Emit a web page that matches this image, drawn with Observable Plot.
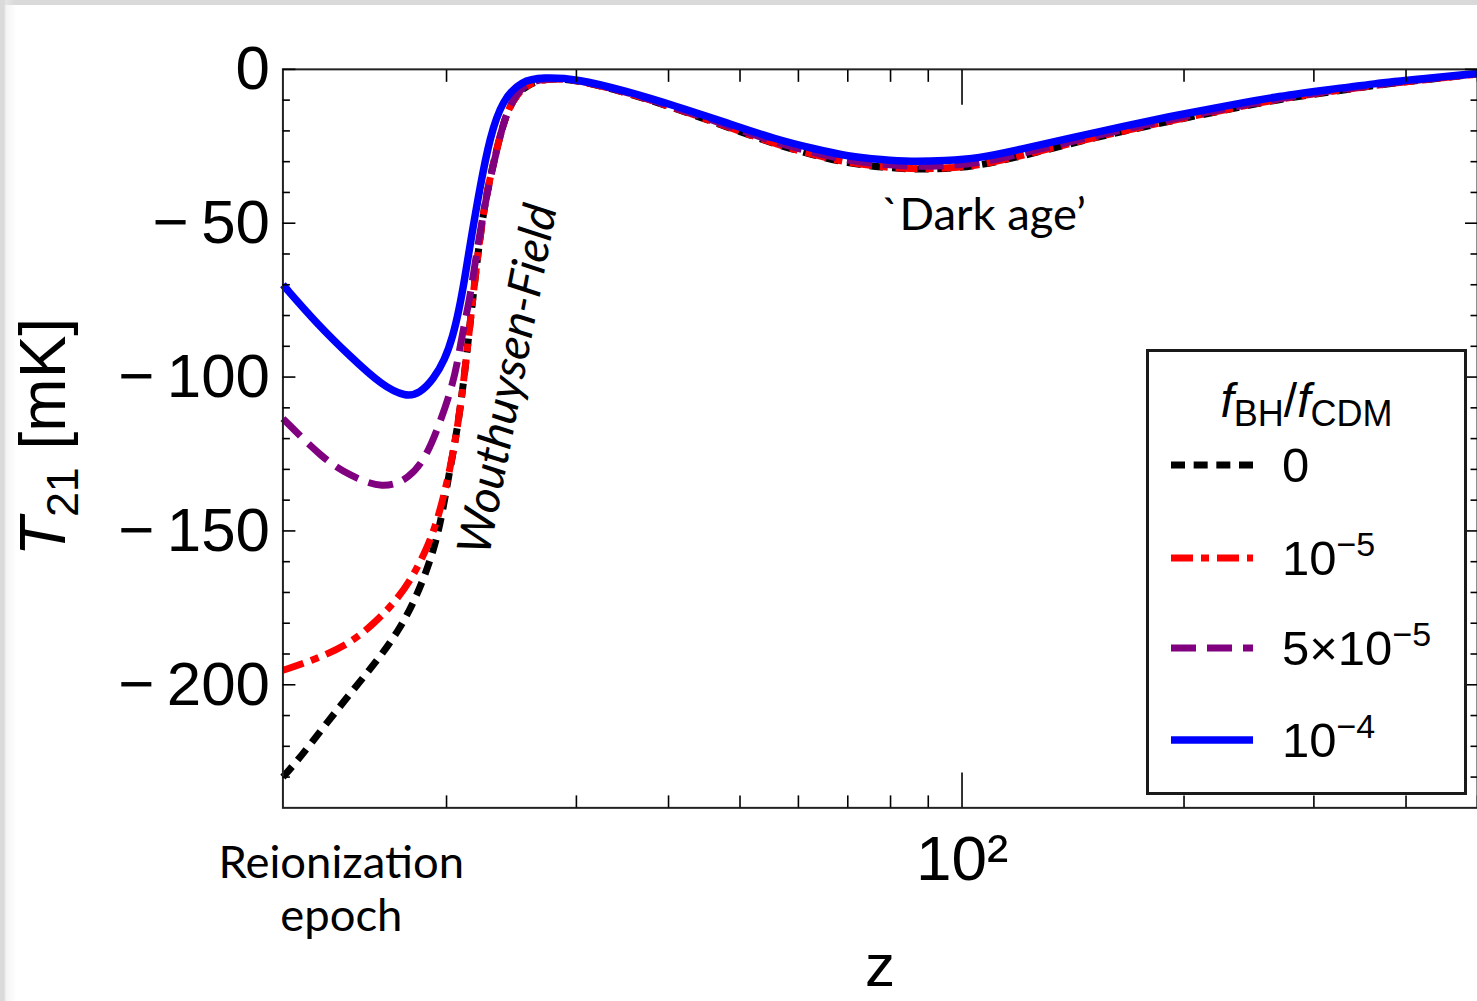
<!DOCTYPE html>
<html><head><meta charset="utf-8">
<script src="https://cdn.jsdelivr.net/npm/d3@7"></script>
<script src="https://cdn.jsdelivr.net/npm/@observablehq/plot@0.6"></script>
<style>
html,body{margin:0;padding:0;background:#fff;overflow:hidden;width:1477px;height:1001px;}
#wrap{position:relative;width:1477px;height:1001px;overflow:hidden;font-family:"Liberation Sans",Arial,sans-serif;}
#wrap svg{position:absolute;left:0;top:0;}
.ov{position:absolute;white-space:nowrap;color:#000;}
#legend{position:absolute;left:1146px;top:349px;width:315px;height:440px;border:3px solid #1a1a1a;background:#fff;}
#legend .title{position:absolute;left:0;right:0;top:0;text-align:center;font-size:48px;line-height:1;}
#legend .row{position:absolute;left:0;height:60px;}
#legend .lab{position:absolute;left:133px;font-size:49px;line-height:60px;top:0;}
#legend sup{font-size:34px;vertical-align:0;position:relative;top:-19px;}
</style></head>
<body><div id="wrap"></div>
<script>
// ---- data (z, T21 in mK) ----
// Shared high-redshift grid
const zTail = [27, 30, 35, 41, 48, 56, 63, 70, 78, 85, 95, 105, 120, 142, 165, 195, 230, 265, 310, 363, 420, 500];

// f_BH/f_CDM = 0
const zRise0 = [12, 12.65, 13.7, 14.9, 16.2, 17.3, 18.2, 19.0, 19.6, 20.1, 20.7, 21.2, 21.6, 22.4, 23.2, 24.1, 25.3];
const TRise0 = [-230, -223.8, -213, -202, -191.4, -181.7, -171.5, -160, -148.5, -133.1, -116.9, -97.5, -79, -45.7, -29.5, -13.3, -5.8];
const TTail0 = [-2.8, -3.3, -7.5, -12.8, -18.7, -24.5, -27.9, -30.5, -31.8, -32.5, -32.3, -31.4, -28.3, -23.8, -20.2, -16.4, -13, -10, -7.6, -5.2, -3.5, -1.5];

// f_BH/f_CDM = 1e-5
const zRise1 = [12, 13.3, 14.8, 16.0, 17.1, 18.0, 18.8, 19.4, 20.1, 20.7, 21.2, 21.6, 22.4, 23.2, 24.1, 25.3];
const TRise1 = [-195.3, -191.7, -186.6, -179.8, -172.6, -164.9, -155.8, -147.4, -133.1, -116.9, -97.5, -79, -45.7, -29.5, -13.3, -5.8];
const TTail1 = [-2.8, -3.3, -7.4, -12.7, -18.6, -24.4, -27.8, -30.4, -31.7, -32.4, -32.2, -31.3, -28.2, -23.7, -20.1, -16.3, -12.9, -9.9, -7.5, -5.1, -3.5, -1.5];

// f_BH/f_CDM = 5e-5
const zRise2 = [12, 13.6, 14.8, 16.4, 17.8, 18.8, 19.6, 20.3, 20.7, 21.1, 21.5, 22.0, 22.6, 23.3, 24.1, 25.3];
const TRise2 = [-113.5, -126.6, -132.1, -136.4, -133.1, -125.7, -114.7, -104, -95.2, -83.6, -74.8, -58.6, -42.4, -27.9, -13.3, -5.2];
const TTail2 = [-2.7, -3.2, -7.3, -12.5, -18.2, -23.9, -27.1, -29.7, -30.9, -31.6, -31.4, -30.6, -27.5, -23.2, -19.6, -15.9, -12.6, -9.7, -7.3, -5.0, -3.4, -1.4];

// f_BH/f_CDM = 1e-4
const zRise3 = [12, 13.3, 14.8, 16.4, 17.6, 18.4, 19.2, 19.9, 20.4, 20.8, 21.16, 21.5, 22.2, 22.9, 23.8, 25.3];
const TRise3 = [-70, -82.3, -93.3, -103, -106.4, -105.3, -100.7, -94.3, -86.8, -78.1, -68.3, -57.7, -38.2, -22, -10, -3.6];
const TTail3 = [-2.6, -3.0, -7, -12, -17.4, -22.8, -25.8, -28.3, -29.4, -30, -29.7, -29, -26, -22, -18.6, -14.9, -11.7, -9, -6.8, -4.6, -3.1, -1.3];

// series & legend
const seriesKeys = ["0", "1e-5", "5e-5", "1e-4"];
const seriesLabels = ["0", "10<sup>\u22125</sup>", "5\u00d710<sup>\u22125</sup>", "10<sup>\u22124</sup>"];
const seriesColors = ["#000000", "#ff0000", "#800080", "#0000ff"];
const seriesDash = ["14,8.67", "22,8,8,8", "25,11", null];
const seriesWidth = [7, 7, 7, 7.5];

// ticks
const xMajor = [100];
const xMinor = [20, 30, 40, 50, 60, 70, 80, 90, 200, 300, 400, 500];
const yMajor = [0, -50, -100, -150, -200];
const yMinor = [-10, -20, -30, -40, -60, -70, -80, -90, -110, -120, -130, -140, -160, -170, -180, -190, -210, -220, -230];

// annotations (in data coordinates)
const notes = [
  {z: 107, T: -46.6, text: "`Dark age\u2019", rotate: 0, italic: false},
  {z: 24.25, T: -100.7, text: "Wouthuysen-Field", rotate: -79, italic: true},
  {z: 14.4, T: -265.9, text: "Reionization\nepoch", rotate: 0, italic: false}
];

// ---- build ----
const riseZ = [zRise0, zRise1, zRise2, zRise3];
const riseT = [TRise0, TRise1, TRise2, TRise3];
const tailT = [TTail0, TTail1, TTail2, TTail3];
const series = seriesKeys.map((k, i) => {
  const zs = riseZ[i].concat(zTail);
  const ts = riseT[i].concat(tailT[i]);
  return zs.map((z, j) => ({key: k, z, T: ts[j]}));
});

const fmtY = d => d < 0 ? "\u2212\u2009" + Math.abs(d) : String(d);
const fontSans = "'Liberation Sans', Arial, sans-serif";

const lineMarks = series.map((rows, i) => Plot.line(rows, {
  x: "z", y: "T", stroke: seriesColors[i], strokeWidth: seriesWidth[i],
  strokeDasharray: seriesDash[i] || undefined, curve: "basis", strokeLinecap: "butt"
}));

const chart = Plot.plot({
  width: 1480, height: 1001,
  marginLeft: 283, marginRight: 0, marginTop: 69, marginBottom: 192,
  style: {fontFamily: fontSans, background: "transparent", overflow: "visible", color: "#000"},
  x: {type: "log", domain: [12, 500], label: null},
  y: {domain: [-240, 0], label: null},
  marks: [
    ...lineMarks,
    Plot.frame({stroke: "#222", strokeWidth: 2}),
    Plot.axisX(xMajor, {anchor: "bottom", tickSize: -35, tickFormat: () => "", strokeWidth: 1.6, label: null}),
    Plot.axisX(xMinor, {anchor: "bottom", tickSize: -12, tickFormat: () => "", strokeWidth: 1.6, label: null}),
    Plot.axisX(xMajor, {anchor: "top", tickSize: -35, tickFormat: () => "", strokeWidth: 1.6, label: null}),
    Plot.axisX(xMinor, {anchor: "top", tickSize: -12, tickFormat: () => "", strokeWidth: 1.6, label: null}),
    Plot.axisX(xMajor, {anchor: "bottom", tickSize: 0, tickPadding: 27, fontSize: 64, tickFormat: () => "10\u00b2", label: null}),
    Plot.axisY(yMajor, {anchor: "left", tickSize: -13, tickFormat: () => "", strokeWidth: 1.6, label: null}),
    Plot.axisY(yMinor, {anchor: "left", tickSize: -7.5, tickFormat: () => "", strokeWidth: 1.6, label: null}),
    Plot.axisY(yMajor, {anchor: "right", tickSize: -13, tickFormat: () => "", strokeWidth: 1.6, label: null}),
    Plot.axisY(yMinor, {anchor: "right", tickSize: -7.5, tickFormat: () => "", strokeWidth: 1.6, label: null}),
    Plot.axisY(yMajor, {anchor: "left", tickSize: 0, tickPadding: 13, fontSize: 62, tickFormat: fmtY, label: null}),
    Plot.text(notes.filter(n => !n.italic), {x: "z", y: "T", text: "text", rotate: "rotate",
      fontSize: 45.5, fontFamily: "Lato", lineHeight: 1.17, fill: "#000"}),
    Plot.text(notes.filter(n => n.italic), {x: "z", y: "T", text: "text", rotate: "rotate",
      fontSize: 47, fontFamily: "Lato", fontStyle: "italic", fill: "#000"})
  ]
});

const wrap = document.getElementById("wrap");
wrap.appendChild(chart);

// y-axis title
const yl = document.createElement("div");
yl.className = "ov";
yl.style.cssText = "left:46px;top:437px;font-size:64px;line-height:64px;transform:translate(-50%,-50%) rotate(-90deg);";
yl.innerHTML = '<i>T</i><span style="font-size:0.7em;position:relative;top:0.28em;">21</span> [mK]';
wrap.appendChild(yl);

// x-axis title
const xl = document.createElement("div");
xl.className = "ov";
xl.style.cssText = "left:880px;top:944px;font-size:60px;line-height:44px;transform:translateX(-50%);";
xl.textContent = "z";
wrap.appendChild(xl);

// legend
const lg = document.createElement("div");
lg.id = "legend";
let html = '<div class="title" style="top:25px;"><i>f</i><span style="font-size:36px;position:relative;top:9px;">BH</span>/<i>f</i><span style="font-size:36px;position:relative;top:9px;">CDM</span></div>';
const rowCenters = [113, 206, 296, 388];
seriesKeys.forEach((k, i) => {
  const dash = seriesDash[i] ? `stroke-dasharray="${seriesDash[i]}"` : "";
  html += `<div class="row" style="top:${rowCenters[i] - 30}px;width:315px;">
    <svg style="position:absolute;left:22px;top:25px" width="82" height="10"><line x1="0" x2="82" y1="5" y2="5" stroke="${seriesColors[i]}" stroke-width="${seriesWidth[i]}" ${dash}/></svg>
    <div class="lab">${seriesLabels[i]}</div></div>`;
});
lg.innerHTML = html;
wrap.appendChild(lg);

// page frame (grey border of the source image)
const topBar = document.createElement("div");
topBar.style.cssText = "position:absolute;left:0;top:0;width:1477px;height:5px;background:#d9d9d9;";
wrap.appendChild(topBar);
const leftBar = document.createElement("div");
leftBar.style.cssText = "position:absolute;left:0;top:0;width:16px;height:1001px;background:linear-gradient(to right,#dadada 0,#dadada 4px,rgba(235,235,235,0.6) 6px,rgba(255,255,255,0) 16px);";
wrap.appendChild(leftBar);
</script>
</body></html>
